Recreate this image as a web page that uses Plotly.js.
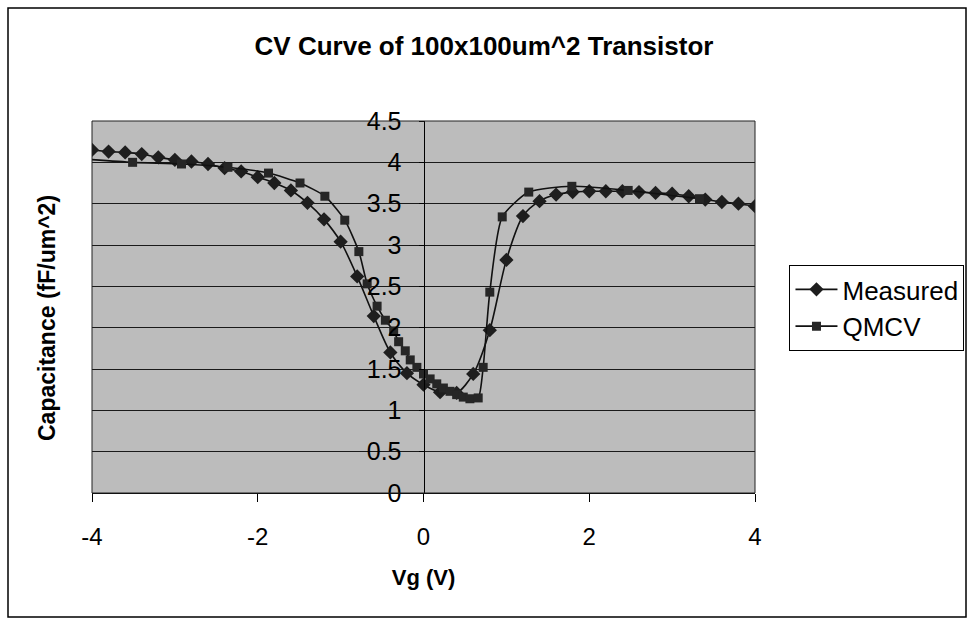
<!DOCTYPE html>
<html>
<head>
<meta charset="utf-8">
<script src="https://cdn.plot.ly/plotly-3.0.1.min.js"></script>
<style>
html,body{margin:0;padding:0;background:#fff;}
#chart{width:968px;height:624px;}
</style>
</head>
<body>
<div id="chart"></div>
<script>
// Measured data (Vg in V, capacitance in fF/um^2)
const measuredVg = [-4.0,-3.8,-3.6,-3.4,-3.2,-3.0,-2.8,-2.6,-2.4,-2.2,-2.0,-1.8,-1.6,-1.4,-1.2,-1.0,-0.8,-0.6,-0.4,-0.2,0.0,0.2,0.4,0.6,0.8,1.0,1.2,1.4,1.6,1.8,2.0,2.2,2.4,2.6,2.8,3.0,3.2,3.4,3.6,3.8,4.0];
const measuredC  = [4.15,4.13,4.12,4.10,4.06,4.03,4.01,3.98,3.93,3.89,3.82,3.75,3.66,3.51,3.31,3.04,2.62,2.14,1.70,1.45,1.31,1.22,1.21,1.44,1.97,2.82,3.35,3.53,3.61,3.64,3.65,3.65,3.65,3.64,3.63,3.62,3.59,3.55,3.52,3.50,3.47];

// QMCV simulation
const qmcvVg = [-4.1,-3.51,-2.92,-2.36,-1.87,-1.49,-1.19,-0.95,-0.78,-0.68,-0.56,-0.46,-0.36,-0.30,-0.22,-0.16,-0.08,0.0,0.08,0.16,0.24,0.32,0.40,0.48,0.56,0.66,0.72,0.80,0.95,1.27,1.79,2.47,3.33];
const qmcvC  = [4.04,4.00,3.98,3.94,3.87,3.75,3.59,3.30,2.92,2.53,2.26,2.09,1.96,1.83,1.72,1.61,1.52,1.44,1.38,1.32,1.27,1.23,1.19,1.16,1.14,1.15,1.52,2.43,3.34,3.64,3.71,3.66,3.56];

const xTicks = [-4,-2,0,2,4];
const xTickText = ['-4','-2','0','2','4'];
const yTicks = [0,0.5,1,1.5,2,2.5,3,3.5,4,4.5];
const yTickText = ['0','0.5','1','1.5','2','2.5','3','3.5','4','4.5'];

const traces = [
  {x: measuredVg, y: measuredC, name: 'Measured', type: 'scatter', mode: 'lines+markers',
   line: {color: '#111', width: 1.6, shape: 'spline', smoothing: 0.8},
   marker: {symbol: 'diamond', size: 11, color: '#1e1e1e'}},
  {x: qmcvVg, y: qmcvC, name: 'QMCV', type: 'scatter', mode: 'lines+markers',
   line: {color: '#111', width: 1.6, shape: 'spline', smoothing: 0.6},
   marker: {symbol: 'square', size: 9, color: '#262626'}}
];

const font = 'Arial, "Liberation Sans", sans-serif';
const layout = {
  width: 968, height: 624,
  margin: {l: 92, r: 213, t: 121, b: 131, autoexpand: false},
  paper_bgcolor: '#fff',
  plot_bgcolor: '#bcbcbc',
  font: {family: font, color: '#000'},
  title: {text: 'CV Curve of 100x100um^2 Transistor', font: {size: 26, family: font, weight: 'bold'}, x: 0.5, xanchor: 'center', y: 0.926, yanchor: 'middle'},
  xaxis: {range: [-4, 4], tickvals: xTicks, ticktext: xTickText, ticks: 'outside', ticklen: 8, tickcolor: '#000',
          showgrid: false, zeroline: false, showline: true, linecolor: '#000', linewidth: 1,
          tickfont: {size: 24}, ticklabelstandoff: 14, automargin: false,
          title: {text: 'Vg (V)', font: {size: 22, weight: 'bold'}, standoff: 20}},
  yaxis: {range: [0, 4.5], tickvals: yTicks, ticktext: yTickText, ticks: 'outside', ticklen: 5,
          tickcolor: '#000', anchor: 'free', position: 0.5, showline: true, linecolor: '#000',
          showgrid: true, gridcolor: '#1a1a1a', gridwidth: 1, zeroline: false, automargin: false,
          tickfont: {size: 25}, ticklabelstandoff: 12},
  showlegend: true,
  legend: {x: 1.052, y: 0.613, xanchor: 'left', yanchor: 'top', bordercolor: '#000', borderwidth: 1,
           bgcolor: '#fff', font: {size: 26}, tracegroupgap: 0, itemwidth: 42},
  shapes: [
    {type: 'rect', xref: 'paper', yref: 'paper', x0: 0, x1: 1, y0: 0, y1: 1, line: {color: '#222', width: 1}},
    {type: 'rect', xref: 'paper', yref: 'paper', x0: (8-92)/663, x1: (966-92)/663, y0: (493-617)/372, y1: (493-8)/372, line: {color: '#000', width: 1.5}}
  ],
  annotations: [
    {text: 'Capacitance (fF/um^2)', xref: 'paper', yref: 'paper', x: (47-92)/663, y: (493-318)/372, showarrow: false,
     textangle: -90, font: {size: 23, weight: 'bold'}, xanchor: 'center', yanchor: 'middle'}
  ]
};

Plotly.newPlot('chart', traces, layout, {displayModeBar: false, staticPlot: true});
</script>
</body>
</html>
